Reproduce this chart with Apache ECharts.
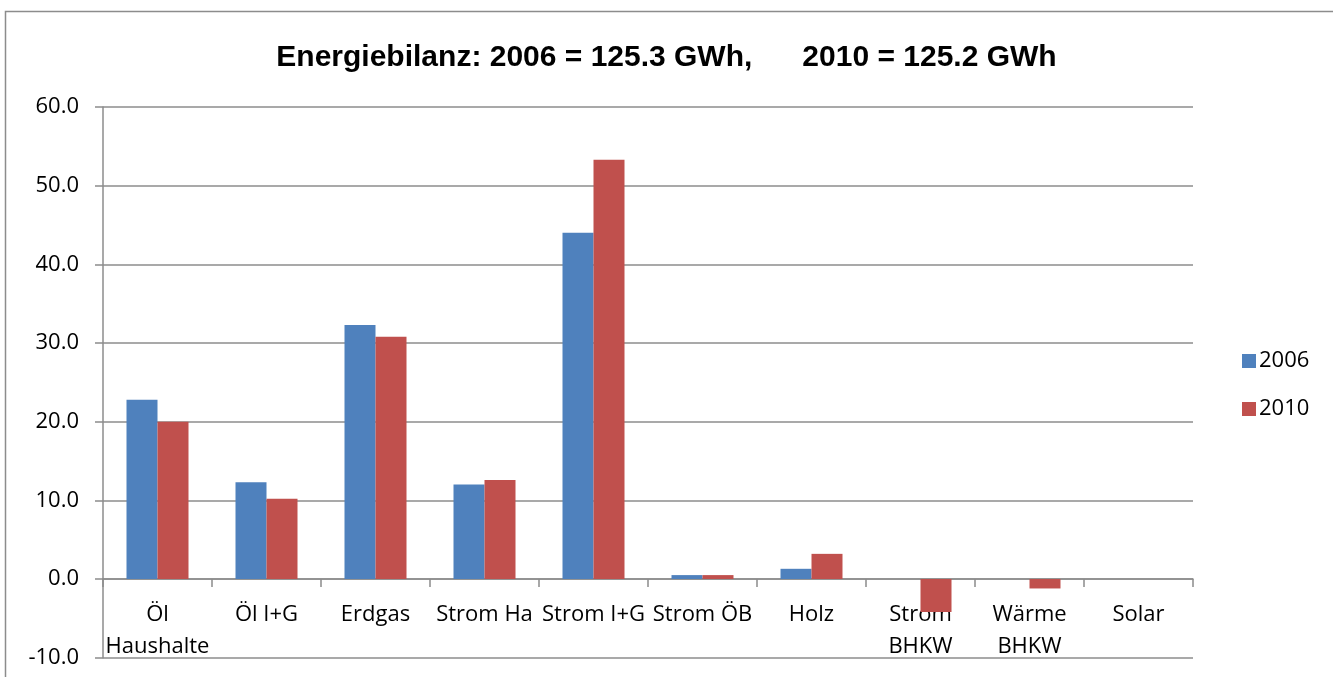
<!DOCTYPE html>
<html>
<head>
<meta charset="utf-8">
<script src="https://cdn.jsdelivr.net/npm/echarts@6/dist/echarts.min.js"></script>
<style>
html,body{margin:0;padding:0;background:#fff;}
#chart{width:1333px;height:677px;}
</style>
</head>
<body>
<div id="chart"></div>
<script>
const categories = ['Öl\nHaushalte', 'Öl I+G', 'Erdgas', 'Strom Ha', 'Strom I+G', 'Strom ÖB', 'Holz', 'Strom\nBHKW', 'Wärme\nBHKW', 'Solar'];
const values2006 = [22.8, 12.3, 32.3, 12.0, 44.0, 0.5, 1.3, 0, 0, 0];
const values2010 = [20.0, 10.2, 30.8, 12.6, 53.3, 0.5, 3.2, -4.2, -1.2, 0];
const seriesNames = ['2006', '2010'];
const titleText = 'Energiebilanz: 2006 = 125.3 GWh,\u00a0\u00a0\u00a0\u00a0\u00a0\u00a02010 = 125.2 GWh';

const chart = echarts.init(document.getElementById('chart'));
const labelFont = '"Open Sans", "Noto Sans", sans-serif';
const gridColor = '#8c8c8c';
chart.setOption({
  animation: false,
  backgroundColor: '#fff',
  graphic: [{
    type: 'rect',
    shape: { x: 5.5, y: 11.5, width: 1400, height: 700 },
    style: { fill: 'none', stroke: '#8c8c8c', lineWidth: 1.5 },
    silent: true
  }],
  title: {
    text: titleText,
    left: 'center',
    top: 38,
    textStyle: { fontFamily: '"Liberation Sans", Arial, sans-serif', fontWeight: 'bold', fontSize: 30, color: '#000' }
  },
  legend: {
    orient: 'vertical',
    left: 1237,
    top: 345,
    itemWidth: 14,
    itemHeight: 14,
    itemGap: 26,
    icon: 'rect',
    textStyle: { fontFamily: labelFont, fontSize: 22, color: '#000', padding: [0, 0, 0, -2] },
    data: seriesNames
  },
  grid: [
    { left: 103, right: 140, top: 107, bottom: 19.3, outerBoundsMode: 'none' },
    { left: 103, right: 140, top: 107, bottom: 98, outerBoundsMode: 'none' }
  ],
  xAxis: [
    {
      type: 'category',
      gridIndex: 0,
      data: categories,
      axisLine: { show: false },
      axisTick: { show: false },
      axisLabel: { show: false },
      splitLine: { show: false }
    },
    {
      type: 'category',
      gridIndex: 1,
      data: categories,
      position: 'bottom',
      z: 0,
      axisLine: { show: true, onZero: false, lineStyle: { color: gridColor, width: 1.5 } },
      axisTick: { show: true, length: 8, inside: false, lineStyle: { color: gridColor, width: 1.5 } },
      axisLabel: { fontFamily: labelFont, fontSize: 22, color: '#000', margin: 20, lineHeight: 32, interval: 0, hideOverlap: false },
      splitLine: { show: false }
    }
  ],
  yAxis: [
    {
      type: 'value',
      gridIndex: 0,
      min: -10,
      max: 60,
      interval: 10,
      axisLine: { show: true, lineStyle: { color: gridColor, width: 1.5 } },
      axisTick: { show: true, length: 8, lineStyle: { color: gridColor, width: 1.5 } },
      axisLabel: { fontFamily: labelFont, fontSize: 22, color: '#000', margin: 24, formatter: v => v.toFixed(1) },
      splitLine: { show: true, lineStyle: { color: gridColor, width: 1.5 } }
    },
    {
      type: 'value',
      gridIndex: 1,
      min: 0,
      max: 60,
      show: false
    }
  ],
  series: [
    { name: seriesNames[0], type: 'bar', z: 10, xAxisIndex: 0, yAxisIndex: 0, data: values2006, barWidth: 31, barGap: '0%', itemStyle: { color: '#4F81BD' } },
    { name: seriesNames[1], type: 'bar', z: 10, xAxisIndex: 0, yAxisIndex: 0, data: values2010, barWidth: 31, barGap: '0%', itemStyle: { color: '#C0504D' } }
  ]
});
</script>
</body>
</html>
